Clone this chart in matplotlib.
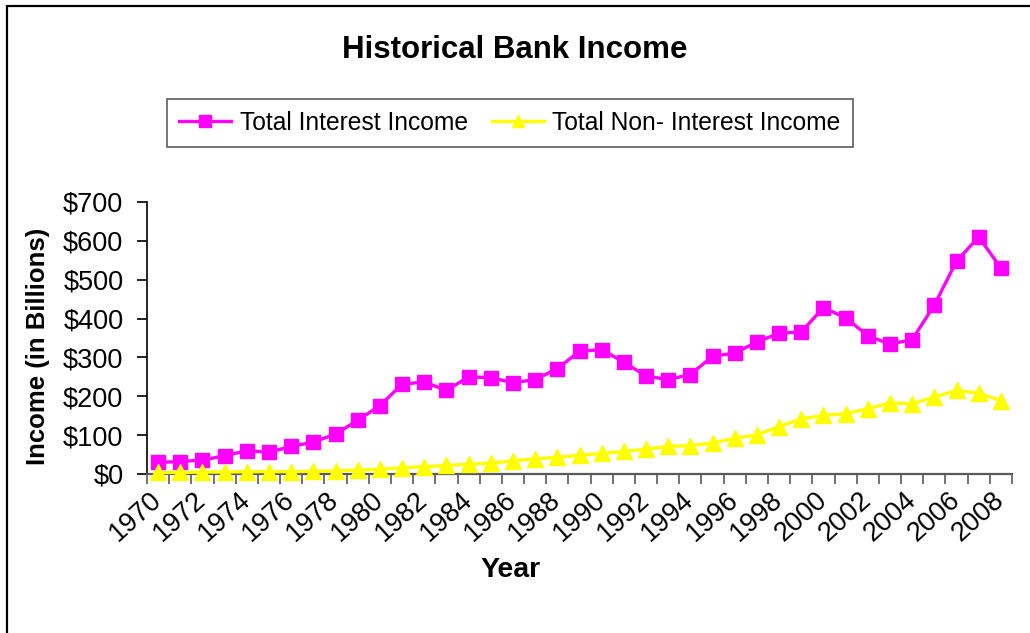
import matplotlib
matplotlib.use("Agg")
import matplotlib.pyplot as plt
from matplotlib.patches import Rectangle
from matplotlib.ticker import FixedLocator, FuncFormatter
import numpy as np

plt.rcParams['font.family'] = ['Liberation Sans', 'DejaVu Sans']

years = list(range(1970, 2009))
interest_income = [30, 32, 36, 47, 60, 56, 71, 82, 103, 138,
                   176, 231, 237, 215, 250, 248, 235, 243, 271, 316,
                   320, 288, 252, 243, 256, 303, 311, 340, 362, 366,
                   428, 402, 356, 334, 346, 435, 548, 610, 530]
noninterest_income = [4, 4, 5, 5, 6, 6, 6, 7, 8, 10,
                      12, 16, 19, 22, 25, 28, 34, 39, 43, 48,
                      53, 58, 64, 71, 73, 80, 92, 101, 122, 142,
                      151, 155, 168, 183, 181, 198, 215, 208, 189]
y_ticks = [0, 100, 200, 300, 400, 500, 600, 700]

W, H = 1030, 633
fig = plt.figure(figsize=(W / 100, H / 100), dpi=100)
fig.patch.set_facecolor('white')

# chart frame
fig.patches.append(Rectangle((6.5 / W, -0.1), 1.2, 1.1 - 6.5 / H,
                             transform=fig.transFigure, fill=False,
                             edgecolor='black', lw=1.6, zorder=0))

ax = fig.add_axes([147 / W, 1 - 474 / H, (1012 - 147) / W, (474 - 202) / H])
x = np.arange(len(years))

ax.plot(x, interest_income, color='#FF00FF', lw=2.4, marker='s',
        markersize=10.5, markeredgecolor='#FF00FF', label='Total Interest Income',
        clip_on=False, zorder=3)
ax.plot(x, noninterest_income, color='#FFFF00', lw=2.4, marker='^',
        markersize=11, markeredgecolor='#FFFF00', label='Total Non- Interest Income',
        clip_on=False, zorder=4)

ax.set_xlim(-0.5, len(years) - 0.5)
ax.set_ylim(0, 700)

for s in ['top', 'right']:
    ax.spines[s].set_visible(False)
ax.spines['left'].set_color('black')
ax.spines['left'].set_linewidth(1.2)
ax.spines['bottom'].set_color('#5a5a5a')
ax.spines['bottom'].set_linewidth(1.6)

ax.yaxis.set_major_locator(FixedLocator(y_ticks))
ax.yaxis.set_major_formatter(FuncFormatter(lambda v, p: f'${int(v)}'))
ax.tick_params(axis='y', direction='out', length=7, width=1.2, color='black',
               labelsize=19.5, pad=10)

# category boundaries carry the tick marks, every second year is labelled
ax.xaxis.set_minor_locator(FixedLocator(np.arange(-0.5, len(years), 1.0)))
ax.xaxis.set_major_locator(FixedLocator(x[::2]))
ax.set_xticklabels([str(y) for y in years[::2]])
ax.tick_params(axis='x', which='minor', direction='out', length=7, width=1.2,
               color='#5a5a5a')
ax.tick_params(axis='x', which='major', length=0, labelsize=19.5, pad=16)
for lab in ax.get_xticklabels():
    lab.set_rotation(42)
    lab.set_ha('right')
    lab.set_va('center')
    lab.set_rotation_mode('anchor')

ax.set_ylabel('Income (in Billions)', fontsize=18.5, fontweight='bold')
ax.yaxis.set_label_coords(-(147 - 50) / (1012 - 147), 0.47)
fig.text(511 / W, 1 - 570 / H, 'Year', fontsize=20.5, fontweight='bold',
         ha='center', va='center')

fig.text(515 / W, 1 - 50 / H, 'Historical Bank Income', fontsize=22.5,
         fontweight='bold', ha='center', va='center')

leg = fig.legend(loc='center', bbox_to_anchor=(510 / W, 1 - 123 / H), ncol=2,
                 fontsize=17.7, frameon=True, fancybox=False, handlelength=2.1,
                 handletextpad=0.35, columnspacing=1.0, borderpad=0.5,
                 markerscale=0.85)
leg.get_frame().set_edgecolor('#333333')
leg.get_frame().set_linewidth(1.2)

fig.savefig('out.png', dpi=100, facecolor='white')
